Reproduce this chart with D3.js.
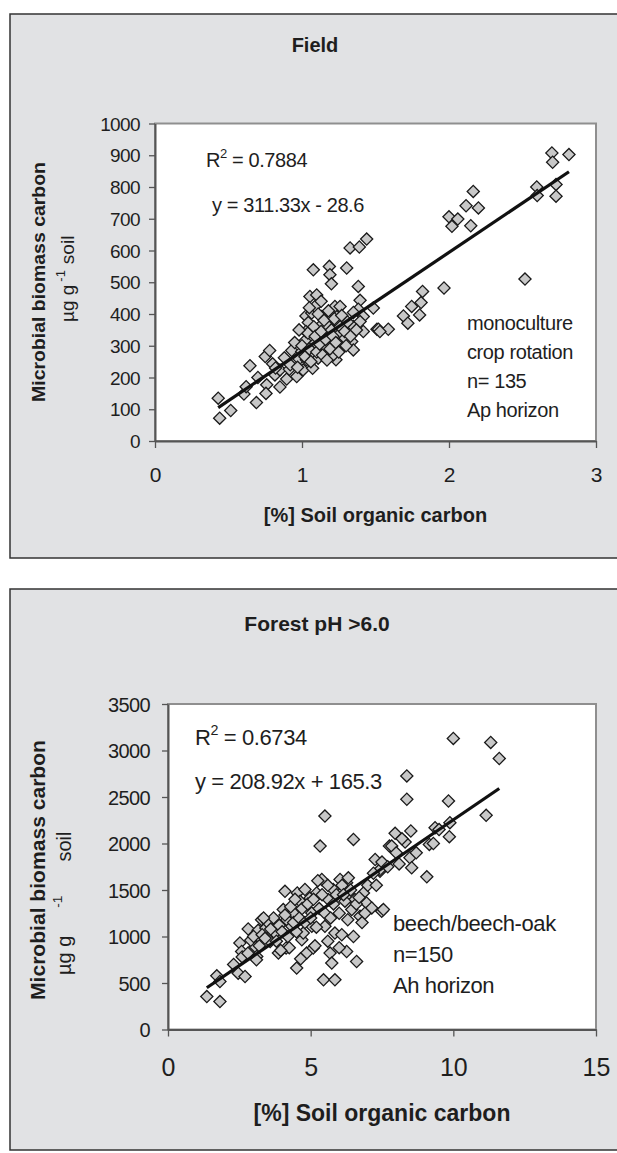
<!DOCTYPE html>
<html>
<head>
<meta charset="utf-8">
<script src="https://cdn.jsdelivr.net/npm/d3@7"></script>
<style>
  body { margin: 0; background: #fff; }
  svg { display: block; font-family: "Liberation Sans", Arial, sans-serif; }
</style>
</head>
<body>
<svg id="chart" width="617" height="1153"></svg>
<script>
// ---- data ----
// Field panel: [% soil organic carbon, microbial biomass carbon]
var fieldPoints = [
  [0.43,135],[0.44,72],[0.515,96],[0.646,237],[0.605,148],[0.69,121],[0.62,171],[0.75,266],
  [0.78,285],[0.80,243],[0.76,177],[0.755,150],[0.816,208],[0.85,170],[0.85,224],[0.896,195],
  [0.93,285],[0.914,226],[0.964,203],[0.98,258],[0.998,282],[1.007,224],[1.03,256],[1.02,316],
  [1.054,455],[1.077,539],[1.10,460],[1.027,394],[1.043,373],[1.027,345],[1.066,403],[1.088,424],
  [1.077,340],[1.088,308],[1.077,277],[1.072,229],[1.122,361],[1.134,392],[1.11,261],[1.145,329],
  [1.156,297],[1.186,550],[1.19,524],[1.20,495],[1.18,361],[1.19,319],[1.213,403],[1.224,424],
  [1.236,376],[1.247,340],[1.224,297],[1.231,256],[1.213,271],[1.259,424],[1.281,361],[1.304,545],
  [1.293,324],[1.27,292],[1.327,608],[1.349,361],[1.338,313],[1.349,287],[1.39,611],[1.44,636],
  [1.383,487],[1.395,443],[1.383,415],[1.417,392],[1.395,376],[1.417,345],[1.51,352],[1.485,419],
  [1.52,352],[1.587,352],[1.53,345],[1.69,394],[1.72,371],[1.746,424],[1.80,397],[1.81,436],
  [1.82,471],[1.966,482],[2.00,706],[2.02,676],[2.06,699],[2.116,741],[2.165,786],[2.20,734],
  [2.148,678],[2.517,510],[2.597,800],[2.60,773],[2.70,907],[2.705,878],[2.816,902],[2.728,808],
  [2.728,771],
  [0.88,262],[0.92,240],[0.95,310],[0.97,232],[1.00,300],[1.02,265],[1.04,340],[1.05,290],
  [1.06,250],[1.08,360],[1.09,330],[1.10,280],[1.11,400],[1.12,305],[1.13,345],[1.14,270],
  [1.15,380],[1.16,320],[1.17,255],[1.18,410],[1.19,290],[1.20,350],[1.21,330],[1.22,385],
  [1.23,310],[1.25,280],[1.26,360],[1.27,395],[1.29,345],[1.30,300],[1.31,375],[1.33,330],
  [1.35,405],[1.37,350],[0.98,350],[1.05,420],[1.13,440],[0.82,230],[0.70,200]
];
// Forest pH > 6.0 panel
var forestPoints = [
  [1.36,354],[1.82,300],[1.71,577],[1.82,516],[2.46,606],[2.70,570],[2.52,930],[2.58,839],
  [2.81,1081],[3.05,893],[3.11,785],[3.16,1066],[3.28,1181],[3.43,1091],[3.58,947],[3.75,1037],
  [3.87,822],[4.04,1289],[4.10,1486],[4.16,1181],[4.14,876],[4.34,1109],[4.40,1253],[4.51,660],
  [4.53,1469],[4.63,1378],[4.69,965],[4.74,1037],[4.86,822],[4.80,1505],[4.98,1415],[5.04,1253],
  [5.04,1109],[5.09,876],[5.21,1469],[5.33,1972],[5.50,2295],[5.39,1613],[5.50,1109],[5.62,1397],
  [5.68,822],[5.74,714],[5.45,534],[5.85,534],[5.79,1505],[5.85,1037],[6.09,1019],[6.03,1613],
  [6.26,1577],[6.32,1631],[6.38,1432],[6.26,839],[6.61,731],[6.50,2044],[6.44,1289],[6.55,1397],
  [6.73,1217],[6.85,1469],[6.96,1361],[7.14,1307],[7.49,1271],[7.26,1828],[7.43,1702],[7.76,1972],
  [10.0,3130],[11.31,3087],[11.61,2914],[8.37,2727],[8.37,2476],[9.83,2457],[11.15,2303],[9.36,2170],
  [9.88,2224],[9.86,2073],[9.16,1990],[8.51,2134],[7.96,2109],[8.31,2015],[7.84,1972],[8.48,1847],
  [8.54,1739],[9.07,1642],[7.55,1289],[7.43,1720],
  [2.6,780],[2.9,960],[3.0,1000],[3.2,900],[3.3,1020],[3.4,980],[3.5,1150],[3.6,1080],
  [3.7,1200],[3.8,950],[3.9,1120],[4.0,1050],[4.1,1230],[4.2,1000],[4.3,1320],[4.4,1150],
  [4.5,1050],[4.6,1200],[4.7,1300],[4.8,1150],[4.9,1350],[5.0,1200],[5.1,1400],[5.2,1100],
  [5.3,1300],[5.4,1450],[5.5,1250],[5.6,1550],[5.7,1200],[5.8,1350],[5.9,1450],[6.0,1250],
  [6.1,1550],[6.2,1380],[6.3,1180],[6.4,1500],[6.6,1350],[6.7,1420],[6.9,1250],[7.0,1550],
  [7.2,1680],[7.5,1800],[8.0,1900],[8.2,2050],[8.7,1900],[9.5,2150],[2.3,700],[2.8,820],
  [3.1,750],[4.25,880],[4.65,760],[5.15,900],[5.6,950],[6.0,880],[6.5,1000],[3.35,1200],
  [4.45,1400],[5.25,1600],[6.15,1450],[6.8,1150],[7.3,1550],[7.7,1750],[8.1,1780],[9.3,2000],
  [3.95,850]
];

// regression lines as printed on the chart: [slope, intercept]
var fieldFit = [311.33, -28.6];
var forestFit = [208.92, 165.3];

var fieldXTicks = [0, 1, 2, 3];
var fieldYTicks = [0, 100, 200, 300, 400, 500, 600, 700, 800, 900, 1000];
var forestXTicks = [0, 5, 10, 15];
var forestYTicks = [0, 500, 1000, 1500, 2000, 2500, 3000, 3500];

var fieldNotes = ["monoculture", "crop rotation", "n= 135", "Ap horizon"];
var forestNotes = ["beech/beech-oak", "n=150", "Ah horizon"];

var svg = d3.select("#chart");

var panels = [
  {
    title: "Field", points: fieldPoints, fit: fieldFit, r2: "0.7884", eq: "y = 311.33x - 28.6",
    xTicks: fieldXTicks, yTicks: fieldYTicks, xMax: 3, yMax: 1000, notes: fieldNotes,
    box: {x: 10, y: 14, w: 620, h: 544},
    plot: {l: 155, r: 596, t: 123.5, b: 441},
    titleY: 45, titleX: 315, titleSize: 20,
    yTickSize: 19, yTickGap: 9, xTickSize: 21, xTickDy: 34,
    xTitleY: 515, xTitleSize: 20,
    yTitleX: 38, yTitleY: 282, yTitleLen: 240, yTitleSize: 19,
    yUnitX: 67, yUnitStart: 322, yUnitSize: 19, yUnitGaps: [3, 6],
    r2X: 206, r2Y: 160, eqX: 212, eqY: 205, eqSize: 20,
    noteX: 467, noteY: 323, noteStep: 29, noteSize: 20
  },
  {
    title: "Forest pH >6.0", points: forestPoints, fit: forestFit, r2: "0.6734", eq: "y = 208.92x + 165.3",
    xTicks: forestXTicks, yTicks: forestYTicks, xMax: 15, yMax: 3500, notes: forestNotes,
    box: {x: 10, y: 589, w: 620, h: 561},
    plot: {l: 168, r: 596, t: 704, b: 1029.5},
    titleY: 623, titleX: 317, titleSize: 21,
    yTickSize: 20, yTickGap: 12, xTickSize: 25, xTickDy: 37.5,
    xTitleY: 1113, xTitleSize: 23,
    yTitleX: 38, yTitleY: 870, yTitleLen: 260, yTitleSize: 20,
    yUnitX: 64, yUnitStart: 975, yUnitSize: 20, yUnitGaps: [28, 34],
    r2X: 195, r2Y: 737, eqX: 195, eqY: 781, eqSize: 22,
    noteX: 393, noteY: 923, noteStep: 31, noteSize: 22
  }
];

panels.forEach(drawPanel);

function drawPanel(p) {
  var g = svg.append("g");
  var ink = "#1e1e1e";

  g.append("rect")
    .attr("x", p.box.x).attr("y", p.box.y)
    .attr("width", p.box.w).attr("height", p.box.h)
    .attr("fill", "#e1e2e4")
    .attr("stroke", "#333").attr("stroke-width", 1.5);

  var x = d3.scaleLinear().domain([0, p.xMax]).range([p.plot.l, p.plot.r]);
  var y = d3.scaleLinear().domain([0, p.yMax]).range([p.plot.b, p.plot.t]);

  // plot area, grey frame on top and right
  g.append("rect")
    .attr("x", p.plot.l).attr("y", p.plot.t)
    .attr("width", p.plot.r - p.plot.l).attr("height", p.plot.b - p.plot.t)
    .attr("fill", "#fff")
    .attr("stroke", "#8f8f8f").attr("stroke-width", 2);

  g.append("text")
    .attr("x", p.titleX).attr("y", p.titleY)
    .attr("text-anchor", "middle").attr("dominant-baseline", "central")
    .attr("font-size", p.titleSize).attr("font-weight", "bold")
    .attr("fill", ink).text(p.title);

  // axes
  var yAxis = d3.axisLeft(y).tickValues(p.yTicks).tickFormat(d3.format("d"))
    .tickSize(6).tickPadding(p.yTickGap).tickSizeOuter(0);
  var xAxis = d3.axisBottom(x).tickValues(p.xTicks).tickFormat(d3.format("d"))
    .tickSize(7).tickPadding(0).tickSizeOuter(0);

  var ya = g.append("g").attr("transform", "translate(" + p.plot.l + ",0)").call(yAxis);
  var xa = g.append("g").attr("transform", "translate(0," + p.plot.b + ")").call(xAxis);

  [ya, xa].forEach(function(a) {
    a.select(".domain").attr("stroke", "#555").attr("stroke-width", 2);
    a.selectAll(".tick line").attr("stroke", "#555").attr("stroke-width", 1.3);
    a.selectAll(".tick text").attr("fill", ink).attr("font-family", "Liberation Sans, Arial, sans-serif");
  });
  ya.selectAll(".tick text").attr("font-size", p.yTickSize).attr("letter-spacing", "-0.6px").attr("dy", "0.35em");
  xa.selectAll(".tick text").attr("font-size", p.xTickSize)
    .attr("y", p.xTickDy).attr("dy", "0.35em");

  // axis titles
  g.append("text")
    .attr("x", x(p.xMax / 2)).attr("y", p.xTitleY)
    .attr("text-anchor", "middle").attr("dominant-baseline", "central")
    .attr("font-size", p.xTitleSize).attr("font-weight", "bold")
    .attr("fill", ink).text("[%] Soil organic carbon");

  g.append("text")
    .attr("transform", "translate(" + p.yTitleX + "," + p.yTitleY + ") rotate(-90)")
    .attr("text-anchor", "middle").attr("dominant-baseline", "central")
    .attr("font-size", p.yTitleSize).attr("font-weight", "bold")
    .attr("textLength", p.yTitleLen).attr("lengthAdjust", "spacingAndGlyphs")
    .attr("fill", ink).text("Microbial biomass carbon");

  // unit line: µg g^-1 soil, pieces set apart as in the picture
  var unit = g.append("text")
    .attr("transform", "translate(" + p.yUnitX + "," + p.yUnitStart + ") rotate(-90)")
    .attr("font-size", p.yUnitSize).attr("fill", ink)
    .attr("dominant-baseline", "central");
  unit.append("tspan").text("\u00b5g g");
  unit.append("tspan").attr("font-size", p.yUnitSize * 0.68)
    .attr("dx", p.yUnitGaps[0]).attr("dy", -7).text("-1");
  unit.append("tspan").attr("dx", p.yUnitGaps[1]).attr("dy", 7).text("soil");

  // points
  var diamond = d3.symbol().type(d3.symbolSquare).size(74);
  g.append("g").selectAll("path")
    .data(p.points)
    .join("path")
    .attr("d", diamond)
    .attr("transform", function(d) { return "translate(" + x(d[0]) + "," + y(d[1]) + ") rotate(45)"; })
    .attr("fill", "#c8c8c8")
    .attr("stroke", "#1a1a1a").attr("stroke-width", 1.3);

  // trend line over the data range
  var xr = d3.extent(p.points, function(d) { return d[0]; });
  var line = d3.line()
    .x(function(d) { return x(d); })
    .y(function(d) { return y(p.fit[0] * d + p.fit[1]); });
  g.append("path")
    .attr("d", line(xr))
    .attr("fill", "none").attr("stroke", "#111").attr("stroke-width", 3.2);

  // R^2 and equation
  var r2 = g.append("text")
    .attr("x", p.r2X).attr("y", p.r2Y)
    .attr("dominant-baseline", "central")
    .attr("font-size", p.eqSize).attr("fill", ink).attr("letter-spacing", "-0.4px");
  r2.append("tspan").text("R");
  r2.append("tspan").attr("font-size", p.eqSize * 0.65).attr("dy", -7).text("2");
  r2.append("tspan").attr("dy", 7).text(" = " + p.r2);

  g.append("text")
    .attr("x", p.eqX).attr("y", p.eqY)
    .attr("dominant-baseline", "central")
    .attr("font-size", p.eqSize).attr("fill", ink).attr("letter-spacing", "-0.4px")
    .text(p.eq);

  g.append("g").selectAll("text")
    .data(p.notes)
    .join("text")
    .attr("x", p.noteX)
    .attr("y", function(d, i) { return p.noteY + i * p.noteStep; })
    .attr("dominant-baseline", "central")
    .attr("font-size", p.noteSize).attr("fill", ink).attr("letter-spacing", "-0.4px")
    .text(function(d) { return d; });
}
</script>
</body>
</html>
